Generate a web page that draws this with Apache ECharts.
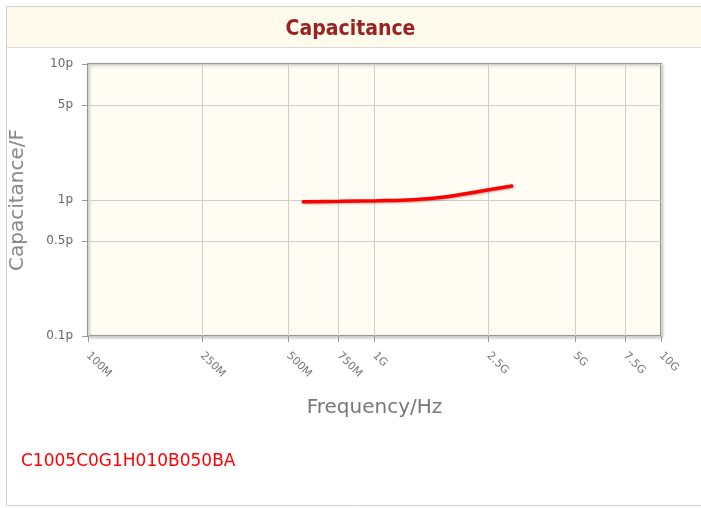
<!DOCTYPE html>
<html><head><meta charset="utf-8">
<script src="https://cdn.jsdelivr.net/npm/echarts@6/dist/echarts.min.js"></script>
<style>html,body{margin:0;padding:0;background:#fff}#c{width:701px;height:508px}</style>
</head><body><div id="c"></div>
<script>
const titleText = 'Capacitance';
const partNumber = 'C1005C0G1H010B050BA';
const xName = 'Frequency/Hz';
const yName = 'Capacitance/F';
const freqHz = [5.64e8, 7.58e8, 1.018e9, 1.363e9, 1.786e9, 2.335e9, 3.012e9];
const capPF  = [0.972, 0.978, 0.988, 1.005, 1.057, 1.159, 1.268];
const xTicks = [1e8, 2.5e8, 5e8, 7.5e8, 1e9, 2.5e9, 5e9, 7.5e9, 1e10];
const xTickLabels = ['100M','250M','500M','750M','1G','2.5G','5G','7.5G','10G'];
const yTicks = [0.1, 0.5, 1, 5, 10];
const yTickLabels = ['0.1p','0.5p','1p','5p','10p'];

const chart = echarts.init(document.getElementById('c'), null, {renderer:'canvas'});
const font = 'DejaVu Sans';
chart.setOption({
  animation:false,
  backgroundColor:'#fff',
  graphic:[
    {type:'rect', z:-10, shape:{x:6.5,y:6.5,width:700,height:499}, style:{fill:'#fff',stroke:'#cfcfcf',lineWidth:1}},
    {type:'rect', z:-9, shape:{x:7,y:7,width:700,height:40}, style:{fill:'#fefaec'}},
    {type:'line', z:-8, shape:{x1:7,y1:47.5,x2:701,y2:47.5}, style:{stroke:'#d8d8d8',lineWidth:1}},
    {type:'text', left:21, top:453, style:{text:partNumber, fill:'#ff0000', font:'17px "DejaVu Sans"'}}
  ],
  title:{text:titleText, left:'center', top:14, textStyle:{color:'#9b2222', fontSize:21, fontWeight:'bold', fontFamily:'DejaVu Sans Condensed'}},
  grid:{left:88, right:40, top:64, bottom:172, outerBoundsMode:'none', containLabel:false, show:true, backgroundColor:'#fffcf3', borderColor:'#9a9a9a', borderWidth:2, shadowColor:'rgba(0,0,0,0.2)', shadowBlur:3, shadowOffsetX:1, shadowOffsetY:1},
  xAxis:{type:'log', min:1e8, max:1e10,
    name:xName, nameLocation:'middle', nameGap:62, nameTextStyle:{color:'#777', fontSize:20, fontFamily:font},
    axisLine:{show:false},
    axisTick:{show:true, length:6, lineStyle:{color:'#999'}, customValues:xTicks},
    axisLabel:{customValues:xTicks, rotate:-45, color:'#777', fontSize:11, fontFamily:font, margin:18,
      formatter:(v)=>{const i=xTicks.findIndex(t=>Math.abs(t-v)/t<1e-6);return i>=0?xTickLabels[i]:'';}},
    splitLine:{show:true, lineStyle:{color:'#cfcfcf', width:1}}
  },
  yAxis:{type:'log', min:0.1, max:10,
    name:yName, nameLocation:'middle', nameGap:60, nameTextStyle:{color:'#888', fontSize:20, fontFamily:font},
    axisLine:{show:false},
    axisTick:{show:true, length:6, lineStyle:{color:'#999'}, customValues:yTicks},
    axisLabel:{customValues:yTicks, color:'#666', fontSize:12, fontFamily:font, margin:15,
      formatter:(v)=>{const i=yTicks.findIndex(t=>Math.abs(t-v)/t<1e-6);return i>=0?yTickLabels[i]:'';}},
    splitLine:{show:true, lineStyle:{color:'#cfcfcf', width:1}}
  },
  series:[{type:'line', data:freqHz.map((f,i)=>[f,capPF[i]]), smooth:0.4, showSymbol:false,
    lineStyle:{color:'#ff0000', width:3.5, cap:'round', shadowColor:'rgba(0,0,0,0.3)', shadowBlur:2, shadowOffsetX:1, shadowOffsetY:1}}]
});
</script></body></html>
